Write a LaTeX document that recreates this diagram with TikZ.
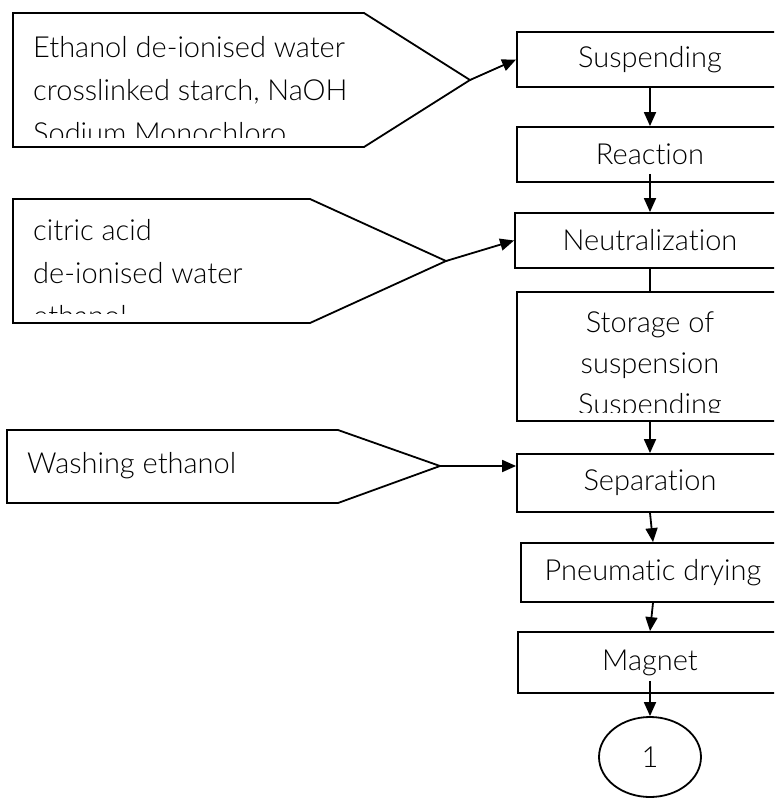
\documentclass[tikz,border=0pt]{standalone}
\usepackage{fontspec}
\setmainfont{Lato}[UprightFont=* Light,Ligatures=NoCommon]
\usetikzlibrary{arrows.meta,shapes.geometric}

\begin{document}
\begin{tikzpicture}[x=1pt,y=-1pt,
    procbox/.style={draw,line width=1.8pt,minimum width=266pt,minimum height=55pt,inner sep=0pt,font=\fontsize{29}{43}\selectfont},
    feed/.style={line width=1.8pt,line join=miter},
    intext/.style={align=left,inner sep=0pt,font=\fontsize{29}{43}\selectfont},
    flow/.style={-{Triangle[length=14pt,width=12pt]},line width=1.8pt}]
        \clip (0,0) rectangle (774,798);
        \draw[feed] (13,13) -- (364,13) -- (470,80) coordinate (tipA) -- (364,147) -- (13,147) -- cycle;
        \draw[feed] (13,199) -- (310,199) -- (446,261) coordinate (tipB) -- (310,323) -- (13,323) -- cycle;
        \draw[feed] (7,430) -- (338,430) -- (440,466) coordinate (tipC) -- (338,503) -- (7,503) -- cycle;
        \begin{scope}
            \clip (13,13) rectangle (470,137);
            \node[intext,anchor=base west] (inA) at (33,143) {Ethanol de-ionised water\\crosslinked starch, NaOH\\Sodium Monochloro};
        \end{scope}
        \begin{scope}
            \clip (13,199) rectangle (446,313);
            \node[intext,anchor=base west] (inB) at (33,326) {citric acid\\de-ionised water\\ethanol};
        \end{scope}
        \node[intext,anchor=base west] (inC) at (27,473) {Washing ethanol};
        \node[procbox] (susp) at (650,59.5) {Suspending};
        \node[procbox] (react) at (650,154.5) {Reaction};
        \node[procbox,minimum width=270pt] (neutr) at (650,240.5) {Neutralization};
        \node[procbox,minimum height=129pt] (store) at (650,356.5) {};
        \begin{scope}
            \clip (517,292) rectangle (783,412);
            \node[intext,align=center,anchor=base,font=\fontsize{29}{41}\selectfont] (storetext) at (650,414) {Storage of\\suspension\\Suspending};
        \end{scope}
        \node[procbox,minimum height=58pt] (separ) at (650,483) {Separation};
        \node[procbox,minimum width=264pt,minimum height=59pt] (pneum) at (653,572.5) {Pneumatic drying};
        \node[procbox,minimum width=264pt,minimum height=61pt] (magnet) at (650,662.5) {Magnet};
        \node[draw,ellipse,line width=1.8pt,minimum width=102pt,minimum height=80pt,inner sep=0pt,font=\fontsize{29}{43}\selectfont] (endA) at (650,757) {1};
        \draw[flow] (tipA) -- (susp.west);
        \draw[flow] (tipB) -- (neutr.west);
        \draw[flow] (tipC) -- (tipC -| separ.west);
        \draw[flow] (susp.south) -- (react.north);
        \draw[flow] ([yshift=9pt]react.south) -- (neutr.north);
        \draw[line width=1.8pt] (neutr.south) -- (store.north);
        \draw[flow] (store.south) -- (separ.north);
        \draw[flow] (separ.south) -- (pneum.north);
        \draw[flow] (pneum.south) -- (magnet.north);
        \draw[flow] ([yshift=13pt]magnet.south) -- (endA.north);
    \end{tikzpicture}
\end{document}
